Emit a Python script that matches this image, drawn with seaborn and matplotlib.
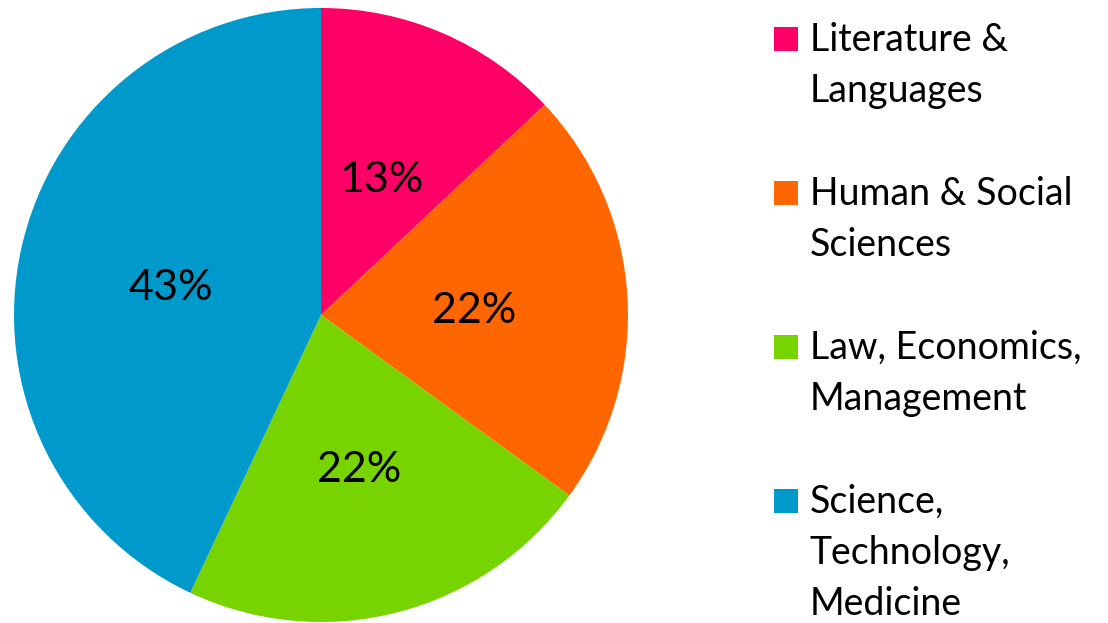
import matplotlib
matplotlib.use("Agg")
import matplotlib.pyplot as plt
import matplotlib.patches as mpatches
import matplotlib.transforms as mtransforms
import seaborn as sns

# data
categories = [
    "Literature &\nLanguages",
    "Human & Social\nSciences",
    "Law, Economics,\nManagement",
    "Science,\nTechnology,\nMedicine",
]
shares = [13, 22, 22, 43]
colors = ["#FF0066", "#FF6600", "#77D400", "#0099CC"]

sns.set_theme(style="white")
plt.rcParams["font.family"] = ["Lato", "DejaVu Sans"]

W, H = 1108, 623
fig = plt.figure(figsize=(W / 100, H / 100), dpi=100)
ax = fig.add_axes([14 / W, 1 / H, 614 / W, 614 / H])

wedges, _, autotexts = ax.pie(
    shares,
    colors=colors,
    startangle=90,
    counterclock=False,
    autopct="%1.0f%%",
    pctdistance=0.5,
    textprops={"fontsize": 31, "color": "black"},
    wedgeprops={"linewidth": 0},
)
# nudge the percentage labels down a little, like the original
for t in autotexts:
    t.set_transform(mtransforms.offset_copy(t.get_transform(), fig=fig,
                                            y=-6, units="dots"))
ax.set_xlim(-1, 1)
ax.set_ylim(-1, 1)
ax.set_aspect("equal")

# legend drawn by hand so the swatch sits on the first line of each label
line_px = 51.3
first_base = 51
k = 0
for wedge, label in zip(wedges, categories):
    base = first_base + line_px * k
    fig.patches.append(mpatches.Rectangle(
        (774 / W, 1 - base / H), 24 / W, 24 / H,
        transform=fig.transFigure, facecolor=wedge.get_facecolor(),
        edgecolor="none"))
    for j, line in enumerate(label.split("\n")):
        fig.text(810 / W, 1 - (base + line_px * j) / H, line,
                 fontsize=27, va="baseline", ha="left", color="black")
    k += label.count("\n") + 2

fig.savefig("out.png", dpi=100)
